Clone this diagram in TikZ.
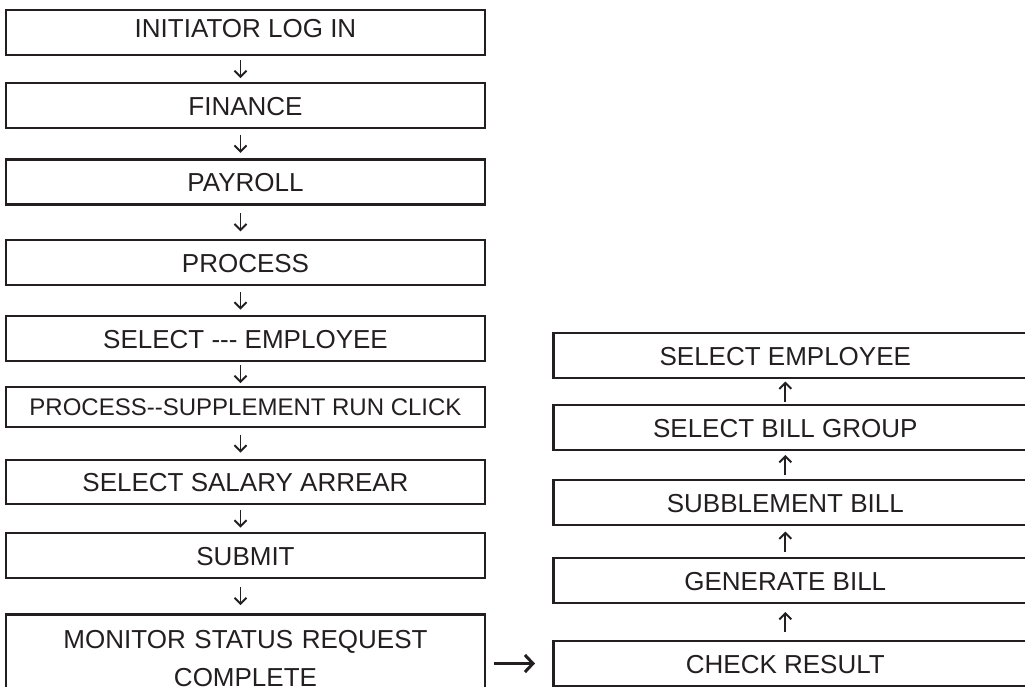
\documentclass[tikz,border=0pt]{standalone}
\usepackage{fontspec}
\setmainfont{Liberation Sans}[Ligatures=TeXOff]
\usetikzlibrary{arrows.meta,calc}
\definecolor{ink}{HTML}{231F20}

\tikzset{
  lbox/.style={draw=ink, line width=2.6pt, text=ink, inner sep=0pt,
    minimum width=479pt, minimum height=45pt, text height=19pt, text depth=0pt,
    font=\fontsize{26}{38}\selectfont},
  rbox/.style={lbox, minimum width=490pt, anchor=west,
    execute at end node={\hspace*{26pt}}},
  steparr/.style={draw=ink, line width=1.9pt, -{Straight Barb[length=6pt,width=12pt]}},
  sidearr/.style={draw=ink, line width=3pt, -{Straight Barb[length=8pt,width=17pt]},
    shorten <=8pt, shorten >=17pt}
}

\begin{document}
\begin{tikzpicture}[x=1pt, y=-1pt]
  \useasboundingbox (0,0) rectangle (1025,686);
  \clip (0,0) rectangle (1025,686);

  % Left column
  \node[lbox, text depth=10pt] (login) at (245.5,32.5) {INITIATOR LOG IN};
  \node[lbox] (finance) at (245.5,105.5) {FINANCE};
  \node[lbox] (payroll) at (245.5,182) {PAYROLL};
  \node[lbox] (process) at (245.5,262.5) {PROCESS};
  \node[lbox] (selemp) at (245.5,338.5) {SELECT --- EMPLOYEE};
  \node[lbox, minimum height=40pt, text height=17pt, font=\fontsize{24}{28}\selectfont]
    (supprun) at (245.5,407) {PROCESS--SUPPLEMENT RUN CLICK};
  \node[lbox, minimum height=44pt] (arrear) at (245.5,482) {SELECT SALARY ARREAR};
  \node[lbox] (submit) at (245.5,555.5) {SUBMIT};
  \node[lbox, anchor=north, text width=440pt, align=center, text height=34pt, text depth=60pt]
    (monitor) at (245.5,613) {MONITOR STATUS REQUEST\\COMPLETE};

  % Right column
  \node[rbox] (selemp2) at (552,355.5) {SELECT EMPLOYEE};
  \node[rbox] (billgrp) at (552,427.5) {SELECT BILL GROUP};
  \node[rbox] (subbill) at (552,502.5) {SUBBLEMENT BILL};
  \node[rbox] (genbill) at (552,580.5) {GENERATE BILL};
  \node[rbox] (checkres) at (552,663.5) {CHECK RESULT};

  % Arrows
  \foreach \a/\b in {login/finance, finance/payroll, payroll/process, process/selemp,
      selemp/supprun, supprun/arrear, arrear/submit, submit/monitor} {
    \draw[steparr] ($(\a.south)!0.5!(\b.north)+(-5,-9)$) -- ++(0,18);
  }
  \foreach \a/\b in {checkres/genbill, genbill/subbill, subbill/billgrp, billgrp/selemp2} {
    \draw[steparr] ($(\a.north)!0.5!(\b.south)+(-13,10)$) -- ++(0,-20);
  }
  \draw[sidearr] (checkres.west -| monitor.east) -- (checkres.west);
\end{tikzpicture}
\end{document}
